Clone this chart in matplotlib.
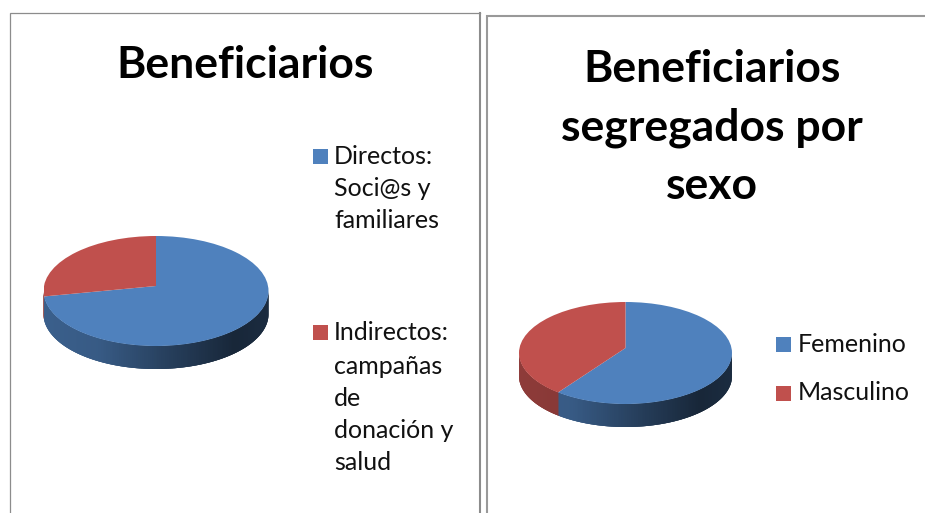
import numpy as np
import matplotlib
matplotlib.use("Agg")
import matplotlib.pyplot as plt
from matplotlib.patches import Circle, Rectangle
from matplotlib.collections import PolyCollection
from matplotlib.colors import to_rgb

W, H = 925, 513
plt.rcParams['font.family'] = ['Lato', 'DejaVu Sans']

title_left = "Beneficiarios"
labels_left = ["Directos:\nSoci@s y\nfamiliares", "Indirectos:\ncampañas\nde\ndonación y\nsalud"]
values_left = [72, 28]
title_right = "Beneficiarios\nsegregados por\nsexo"
labels_right = ["Femenino", "Masculino"]
values_right = [60, 40]
colors = ["#4f81bd", "#c0504d"]

fig = plt.figure(figsize=(W / 100, H / 100), dpi=100, facecolor="white")
bg = fig.add_axes([0, 0, 1, 1])
bg.set_xlim(0, W); bg.set_ylim(H, 0); bg.axis("off")

# frames
frame = "#8c8c8c"
bg.plot([10, 10, 479.5], [H, 13, 13], color=frame, lw=0.9, solid_joinstyle="miter")
bg.plot([479.5, 479.5], [13, H], color=frame, lw=1.5)
bg.plot([486.5, 486.5, W], [H, 15.5, 15.5], color="#999999", lw=1.5, solid_joinstyle="miter")


def side_shade(x, base):
    # horizontal shading of the rim, dark towards the right
    t = (x + 1) / 2
    f = np.interp(t, [0, 0.25, 0.6, 0.85, 1], [0.74, 0.70, 0.46, 0.30, 0.34])
    return tuple(c * f for c in to_rgb(base))


def pie3d(values, cx, cy, rx, ry, depth, apex_up):
    ax = fig.add_axes([(cx - rx) / W, 1 - (cy + ry) / H, 2 * rx / W, 2 * ry / H])
    ay = apex_up / ry
    wedges, _ = ax.pie(values, colors=colors, startangle=90, counterclock=False,
                       radius=1.3, center=(0, ay))
    ax.set_aspect("auto")
    ax.set_xlim(-1, 1); ax.set_ylim(-1, 1)
    clip = Circle((0, 0), 1, transform=ax.transData)
    for w in wedges:
        w.set_clip_on(True)
        w.set_clip_path(clip)
        w.set_linewidth(0)
        w.set_zorder(3)
    # rim: where the slice boundary meets the ellipse
    d = depth / ry
    frac = np.cumsum(values) / np.sum(values)
    a = np.deg2rad(90 - 360 * frac[0])
    dx, dy = np.cos(a), np.sin(a)
    b = ay * dy
    s = -b + np.sqrt(b * b - (ay * ay - 1))
    seam = np.arctan2(ay + s * dy, s * dx) % (2 * np.pi)
    th = np.linspace(np.pi, 2 * np.pi, 181)
    polys, cols = [], []
    # each strip reaches under the next one so no seams show between strips
    for i, (t0, t1) in enumerate(zip(th[:-1], th[1:])):
        t2 = th[min(i + 3, len(th) - 1)]
        seg = np.linspace(t0, t2, 4)
        upper = np.column_stack([np.cos(seg), np.sin(seg)])
        lower = (upper - [0, d])[::-1]
        polys.append(np.vstack([upper, lower]))
        base = colors[0] if (t0 + t1) / 2 >= seam else colors[1]
        cols.append(side_shade((np.cos(t0) + np.cos(t1)) / 2, base))
    pc = PolyCollection(polys, facecolors=cols, edgecolors="none", linewidths=0,
                        zorder=2, clip_on=False)
    ax.add_collection(pc)
    ax.set_xlim(-1, 1); ax.set_ylim(-1, 1)
    return ax


pie3d(values_left, 156, 291, 112.5, 55, 23, 5)
pie3d(values_right, 625.5, 353, 106.5, 51, 23, 5)

# titles
bg.text(245.5, 65, title_left, fontsize=32, fontweight="bold", color="black", ha="center", va="center")
for line, y in zip(title_right.split("\n"), [69, 128, 186]):
    bg.text(712, y, line, fontsize=32, fontweight="bold", color="black", ha="center", va="center")


def legend_entry(sq_x, text_x, ys, label, color, size):
    bg.add_patch(Rectangle((sq_x, ys[0] - 7), size, size, facecolor=color, edgecolor="none"))
    for line, y in zip(label.split("\n"), ys):
        bg.text(text_x, y, line, fontsize=18, color="#111111", ha="left", va="center")


legend_entry(313, 334, [156, 188, 220], labels_left[0], colors[0], 14.5)
legend_entry(313, 334, [332, 366, 398, 430, 462], labels_left[1], colors[1], 14.5)
legend_entry(776, 797.5, [344], labels_right[0], colors[0], 15)
legend_entry(776, 797.5, [393], labels_right[1], colors[1], 15)

fig.savefig("out.png", dpi=100, facecolor="white")
